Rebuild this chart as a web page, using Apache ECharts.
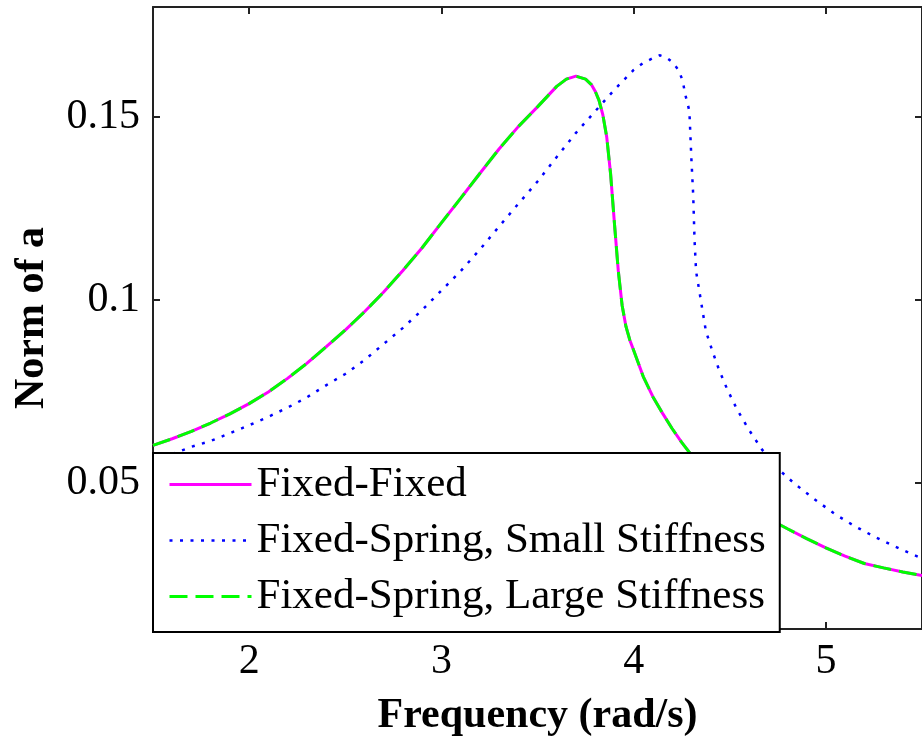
<!DOCTYPE html>
<html>
<head>
<meta charset="utf-8">
<script src="https://cdn.jsdelivr.net/npm/echarts@6/dist/echarts.min.js"></script>
<style>
  html, body { margin: 0; padding: 0; background: #fff; }
  #chart { width: 922px; height: 742px; }
</style>
</head>
<body>
<div id="chart"></div>
<script>
// Frequency samples (rad/s) and response norm for the fixed-fixed beam
const fixedFixedX = [1.5, 1.6, 1.7, 1.8, 1.9, 2.0, 2.1, 2.2, 2.3, 2.4, 2.5, 2.6, 2.7, 2.8, 2.9, 3.0,
  3.1, 3.2, 3.3, 3.4, 3.5, 3.6, 3.65, 3.7, 3.75, 3.78, 3.80, 3.82, 3.84, 3.86, 3.88, 3.90, 3.92,
  3.94, 3.96, 3.98, 4.0, 4.05, 4.1, 4.15, 4.2, 4.25, 4.3, 4.4, 4.5, 4.6, 4.7, 4.8, 4.9, 5.0,
  5.1, 5.2, 5.3, 5.4, 5.5];
const fixedFixedY = [0.0602, 0.0620, 0.0640, 0.0663, 0.0688, 0.0716, 0.0748, 0.0785, 0.0826, 0.0871,
  0.0917, 0.0967, 0.1021, 0.1080, 0.1142, 0.1210, 0.1277, 0.1345, 0.1412, 0.1473, 0.1527, 0.1583,
  0.1603, 0.1611, 0.1603, 0.1588, 0.1570, 0.1545, 0.1505, 0.1445, 0.1345, 0.1210, 0.1080, 0.0985,
  0.0927, 0.0890, 0.0862, 0.0790, 0.0735, 0.0690, 0.0648, 0.0610, 0.0576, 0.0520, 0.0475, 0.0437,
  0.0402, 0.0374, 0.0347, 0.0322, 0.0299, 0.0279, 0.0267, 0.0256, 0.0246];

// Fixed-spring support with a small spring stiffness
const smallStiffnessX = [1.5, 1.6, 1.7, 1.8, 1.9, 2.0, 2.1, 2.2, 2.3, 2.4, 2.5, 2.6, 2.7, 2.8, 2.9,
  3.0, 3.1, 3.2, 3.3, 3.4, 3.5, 3.6, 3.7, 3.8, 3.9, 4.0, 4.05, 4.1, 4.135, 4.17, 4.2, 4.235, 4.255,
  4.27, 4.29, 4.30, 4.31, 4.317, 4.325, 4.342, 4.359, 4.376, 4.41, 4.444, 4.487, 4.538, 4.598,
  4.667, 4.75, 4.84, 4.94, 5.05, 5.15, 5.25, 5.35, 5.45, 5.5];
const smallStiffnessY = [0.0555, 0.0578, 0.0598, 0.0614, 0.0635, 0.0657, 0.0680, 0.0705, 0.0733,
  0.0766, 0.0797, 0.0835, 0.0879, 0.0923, 0.0972, 0.1025, 0.1078, 0.1137, 0.1200, 0.1262, 0.1323,
  0.1390, 0.1456, 0.1515, 0.1574, 0.1628, 0.1647, 0.1660, 0.1668, 0.1662, 0.1650, 0.1627, 0.1598,
  0.1558, 0.1516, 0.1390, 0.1285, 0.1161, 0.1077, 0.1023, 0.0968, 0.0914, 0.0859, 0.0809, 0.0755,
  0.0700, 0.0646, 0.0591, 0.0538, 0.0496, 0.0455, 0.0413, 0.0381, 0.0353, 0.0328, 0.0304, 0.0293];

// Fixed-spring support with a large spring stiffness (overlaps fixed-fixed)
const largeStiffnessX = [1.5, 1.6, 1.7, 1.8, 1.9, 2.0, 2.1, 2.2, 2.3, 2.4, 2.5, 2.6, 2.7, 2.8, 2.9, 3.0,
  3.1, 3.2, 3.3, 3.4, 3.5, 3.6, 3.65, 3.7, 3.75, 3.78, 3.80, 3.82, 3.84, 3.86, 3.88, 3.90, 3.92,
  3.94, 3.96, 3.98, 4.0, 4.05, 4.1, 4.15, 4.2, 4.25, 4.3, 4.4, 4.5, 4.6, 4.7, 4.8, 4.9, 5.0,
  5.1, 5.2, 5.3, 5.4, 5.5];
const largeStiffnessY = [0.0602, 0.0620, 0.0640, 0.0663, 0.0688, 0.0716, 0.0748, 0.0785, 0.0826, 0.0871,
  0.0917, 0.0967, 0.1021, 0.1080, 0.1142, 0.1210, 0.1277, 0.1345, 0.1412, 0.1473, 0.1527, 0.1583,
  0.1603, 0.1611, 0.1603, 0.1588, 0.1570, 0.1545, 0.1505, 0.1445, 0.1345, 0.1210, 0.1080, 0.0985,
  0.0927, 0.0890, 0.0862, 0.0790, 0.0735, 0.0690, 0.0648, 0.0610, 0.0576, 0.0520, 0.0475, 0.0437,
  0.0402, 0.0374, 0.0347, 0.0322, 0.0299, 0.0279, 0.0267, 0.0256, 0.0246];

const seriesNames = ['Fixed-Fixed', 'Fixed-Spring, Small Stiffness', 'Fixed-Spring, Large Stiffness'];
const xTicks = [2, 3, 4, 5];
const yTicks = [0.05, 0.1, 0.15];

const pairs = (xs, ys) => xs.map((x, i) => [x, ys[i]]);

const FONT = 'Liberation Serif';
const frameColor = '#222';

// line styles shared by each curve and its legend sample
const styles = [
  { color: '#ff00ff', width: 3 },
  { color: '#0000ff', width: 2.5, type: [3, 7.5] },
  { color: '#00ff00', width: 3, type: [18, 8] }
];

function frameAxis(extra) {
  return Object.assign({
    type: 'value',
    axisLine: { show: true, onZero: false, lineStyle: { color: frameColor, width: 2 } },
    splitLine: { show: false },
    axisLabel: { show: false },
    axisTick: { show: true, inside: true, length: 7, lineStyle: { color: frameColor, width: 2 } }
  }, extra);
}

const chart = echarts.init(document.getElementById('chart'), null, { renderer: 'canvas' });

chart.setOption({
  animation: false,
  backgroundColor: '#fff',
  grid: { left: 153, top: 7, width: 776, height: 623, containLabel: false },
  xAxis: [
    frameAxis({
      min: 1.5, max: 5.5, position: 'bottom',
      axisTick: { show: true, inside: true, length: 7, customValues: xTicks, lineStyle: { color: frameColor, width: 2 } },
      axisLabel: { show: true, customValues: xTicks, fontSize: 42, fontFamily: FONT, color: '#000', margin: 12 },
      name: 'Frequency (rad/s)', nameLocation: 'middle', nameGap: 66,
      nameTextStyle: { fontSize: 42, fontWeight: 'bold', fontFamily: FONT, color: '#000' }
    }),
    frameAxis({
      min: 1.5, max: 5.5, position: 'top',
      axisTick: { show: true, inside: true, length: 7, customValues: xTicks, lineStyle: { color: frameColor, width: 2 } }
    })
  ],
  yAxis: [
    frameAxis({
      min: 0.01, max: 0.18, position: 'left',
      axisTick: { show: true, inside: true, length: 7, customValues: yTicks, lineStyle: { color: frameColor, width: 2 } },
      axisLabel: { show: true, customValues: yTicks, fontSize: 42, fontFamily: FONT, color: '#000', margin: 13 },
      name: 'Norm of a', nameLocation: 'middle', nameGap: 100, nameRotate: 90,
      nameTextStyle: { fontSize: 42, fontWeight: 'bold', fontFamily: FONT, color: '#000' }
    }),
    frameAxis({
      min: 0.01, max: 0.18, position: 'right',
      axisTick: { show: true, inside: true, length: 7, customValues: yTicks, lineStyle: { color: frameColor, width: 2 } }
    })
  ],
  legend: {
    orient: 'vertical',
    left: 153, top: 453,
    itemWidth: 82, itemHeight: 14, itemGap: 13,
    padding: [10, 14, 14, 15],
    backgroundColor: '#fff',
    borderColor: '#000', borderWidth: 2, borderRadius: 0,
    itemStyle: { opacity: 0 },
    textStyle: { fontSize: 43, fontFamily: FONT, color: '#000' },
    data: seriesNames.map((name, i) => ({ name, lineStyle: Object.assign({}, styles[i]) }))
  },
  series: [
    {
      name: seriesNames[0], type: 'line', data: pairs(fixedFixedX, fixedFixedY),
      symbol: 'none', showSymbol: false, smooth: false,
      lineStyle: styles[0], itemStyle: { color: styles[0].color }
    },
    {
      name: seriesNames[1], type: 'line', data: pairs(smallStiffnessX, smallStiffnessY),
      symbol: 'none', showSymbol: false, smooth: false,
      lineStyle: styles[1], itemStyle: { color: styles[1].color }
    },
    {
      name: seriesNames[2], type: 'line', data: pairs(largeStiffnessX, largeStiffnessY),
      symbol: 'none', showSymbol: false, smooth: false,
      lineStyle: styles[2], itemStyle: { color: styles[2].color }
    }
  ]
});
</script>
</body>
</html>
